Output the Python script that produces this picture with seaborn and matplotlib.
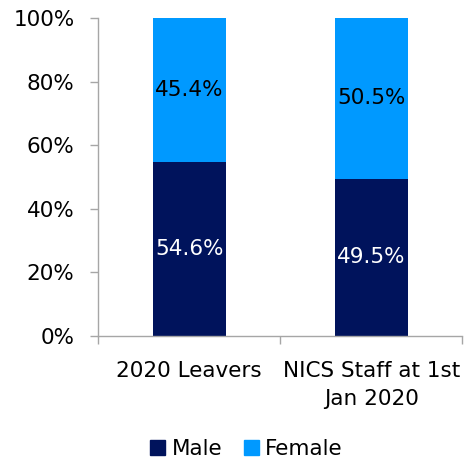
import matplotlib
matplotlib.use("Agg")
import matplotlib.pyplot as plt
import seaborn as sns
import pandas as pd
from matplotlib.patches import Patch
from matplotlib.ticker import PercentFormatter

# ---- Data ----
categories = ["2020 Leavers", "NICS Staff at 1st\nJan 2020"]
male = [54.6, 49.5]
female = [45.4, 50.5]

male_color = "#00135C"
female_color = "#0099FF"
axis_grey = "#A6A6A6"
fs = 15.5

sns.set_style("white")
plt.rcParams["font.family"] = ["DejaVu Sans"]
plt.rcParams["text.color"] = "black"
plt.rcParams["xtick.color"] = "black"
plt.rcParams["ytick.color"] = "black"

df = pd.DataFrame({"category": categories, "male": male, "female": female})
df["total"] = df["male"] + df["female"]

fig = plt.figure(figsize=(4.65, 4.59), dpi=100)
ax = fig.add_axes([0.211, 0.268, 0.783, 0.693])

# stacked: full bar in female colour, male drawn over the bottom
sns.barplot(data=df, x="category", y="total", color=female_color, width=0.4,
            saturation=1, linewidth=0, ax=ax)
sns.barplot(data=df, x="category", y="male", color=male_color, width=0.4,
            saturation=1, linewidth=0, ax=ax)

# ---- Labels inside the segments ----
for i, (m, f) in enumerate(zip(male, female)):
    ax.text(i, m / 2, f"{m:.1f}%", ha="center", va="center", color="white", fontsize=fs)
    ax.text(i, m + f / 2, f"{f:.1f}%", ha="center", va="center", color="black", fontsize=fs)

ax.set_xlim(-0.5, 1.5)
ax.set_ylim(0, 100)
ax.set_yticks(range(0, 101, 20))
ax.yaxis.set_major_formatter(PercentFormatter(decimals=0))
ax.set_xlabel("")
ax.set_ylabel("")

# x ticks sit on category boundaries, labels at category centres
ax.set_xticks([-0.5, 0.5, 1.5])
ax.set_xticklabels([])
ax.set_xticks([0, 1], minor=True)
ax.set_xticklabels(categories, minor=True, fontsize=fs, linespacing=1.5)
ax.tick_params(axis="x", which="minor", bottom=True, length=0, pad=18, labelcolor="black")
ax.tick_params(axis="x", which="major", bottom=True, length=6, width=1, color=axis_grey, direction="out")
ax.tick_params(axis="y", left=True, length=6, width=1, color=axis_grey, direction="out",
               labelsize=fs, pad=11, labelcolor="black")

sns.despine(ax=ax)
for side in ["left", "bottom"]:
    ax.spines[side].set_color(axis_grey)
    ax.spines[side].set_linewidth(1)

handles = [Patch(color=male_color, label="Male"), Patch(color=female_color, label="Female")]
fig.legend(handles=handles, loc="center", bbox_to_anchor=(0.53, 0.022), ncol=2,
           frameon=False, fontsize=fs, handlelength=0.7, handleheight=0.7,
           handletextpad=0.3, columnspacing=1.0)

fig.savefig("out.png", dpi=100)
